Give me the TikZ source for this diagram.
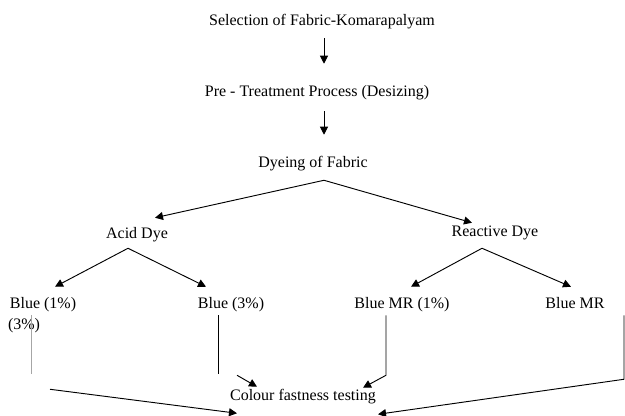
\documentclass[tikz,border=0pt]{standalone}
\usepackage{fontspec}
\setmainfont{Liberation Serif}
\usetikzlibrary{arrows.meta}

\begin{document}
\begin{tikzpicture}[x=0.75pt,y=-0.75pt,
textnode/.style={inner sep=0pt, text height=8pt, text depth=2.5pt, font=\fontsize{12}{14}\selectfont},
arrowline/.style={line width=0.7pt, -{Triangle[length=6pt,width=6pt]}},
plainline/.style={line width=0.7pt},
]
\useasboundingbox (0,0) rectangle (625,415);

\node[textnode] (sel) at (322,22) {Selection of Fabric-Komarapalyam};
\node[textnode] (pre) at (317,93) {Pre - Treatment Process (Desizing)};
\node[textnode] (dye) at (313,164) {Dyeing of Fabric};
\node[textnode] (acid) at (137,235) {Acid Dye};
\node[textnode] (react) at (495,233) {Reactive Dye};
\node[textnode] (b1) at (43,305) {Blue (1\%)};
\node[textnode] (b1extra) at (24,326) {(3\%)};
\node[textnode] (b3) at (231,305) {Blue (3\%)};
\node[textnode] (mr1) at (402,305) {Blue MR (1\%)};
\node[textnode] (mr) at (575,305) {Blue MR};
\node[textnode] (test) at (303,397) {Colour fastness testing};

\coordinate (axis) at (324,0);
\coordinate (dyeApex) at ([shift={(11,9)}]dye.south);
\coordinate (acidApex) at ([shift={(-9,6)}]acid.south);
\coordinate (reactApex) at ([shift={(-13,8)}]react.south);

% main chain
\draw[arrowline, shorten <=6.75pt, shorten >=16.5pt] (sel.south -| axis) -- (pre.north -| axis);
\draw[arrowline, shorten <=8.25pt, shorten >=16.5pt] (pre.south -| axis) -- (dye.north -| axis);

% dye types
\draw[arrowline] (dyeApex) -- ([shift={(18,-10)}]acid.north);
\draw[arrowline] (dyeApex) -- ([shift={(-23,-3)}]react.north);

% concentrations
\draw[arrowline] (acidApex) -- ([shift={(12,-11)}]b1.north);
\draw[arrowline] (acidApex) -- ([shift={(-25,-11)}]b3.north);
\draw[arrowline] (reactApex) -- ([shift={(9,-11)}]mr1.north);
\draw[arrowline] (reactApex) -- ([shift={(-4,-11)}]mr.north);

% to testing
\draw[plainline, gray!70] ([shift={(-12,3)}]b1.south) -- ++(0,59);
\draw[arrowline] ([shift={(7,77)}]b1.south) -- ([shift={(-66,9)}]test.south);
\draw[plainline] ([shift={(-13,3)}]b3.south) -- ++(0,59);
\draw[arrowline] ([shift={(6,63)}]b3.south) -- ([shift={(-46,-3)}]test.north);
\draw[arrowline] ([shift={(-16,3)}]mr1.south) -- ++(0,60) -- ([shift={(60,-2)}]test.north);
\draw[arrowline] ([shift={(49,3)}]mr.south) -- ++(0,64) -- ([shift={(75,10)}]test.south);
\end{tikzpicture}
\end{document}
